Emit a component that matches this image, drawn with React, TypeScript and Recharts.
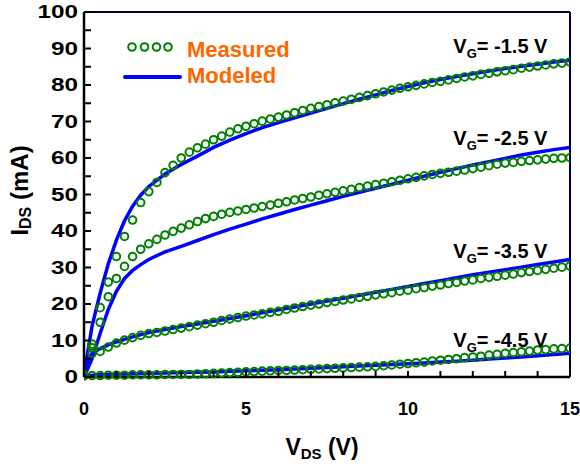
import {
  ComposedChart,
  Line,
  Scatter,
  XAxis,
  YAxis,
  ReferenceLine,
  ReferenceDot,
} from "recharts";

// measured sweep (V_DS, volts)
const vdsMeas = [
  0, 0.25, 0.5, 0.75, 1, 1.25, 1.5, 1.75, 2, 2.25, 2.5, 2.75, 3, 3.25, 3.5, 3.75,
  4, 4.25, 4.5, 4.75, 5, 5.25, 5.5, 5.75, 6, 6.25, 6.5, 6.75, 7, 7.25, 7.5, 7.75,
  8, 8.25, 8.5, 8.75, 9, 9.25, 9.5, 9.75, 10, 10.25, 10.5, 10.75, 11, 11.25, 11.5,
  11.75, 12, 12.25, 12.5, 12.75, 13, 13.25, 13.5, 13.75, 14, 14.25, 14.5, 14.75, 15,
];

// measured I_DS (mA)
const measVg15 = [
  0.5, 9, 19, 26, 33, 38.5, 43, 47.8, 50.8, 53.3, 56, 58, 60, 61.6, 62.8, 63.8,
  65, 66, 67.1, 68, 68.7, 69.4, 70.1, 70.7, 71.2, 71.8, 72.4, 73.0, 73.6, 74.1, 74.6, 75.1,
  75.6, 76.1, 76.6, 77.1, 77.6, 78.1, 78.6, 79.1, 79.5, 79.9, 80.3, 80.7, 81.0, 81.4, 81.8,
  82.2, 82.5, 82.9, 83.2, 83.6, 83.9, 84.2, 84.6, 84.9, 85.2, 85.5, 85.8, 86.0, 86.3,
];
const measVg25 = [
  0.5, 8, 15, 22, 27, 30.3, 33, 35, 36.5, 37.7, 38.9, 39.9, 40.8, 41.7, 42.6, 43.4,
  44.0, 44.6, 45.1, 45.5, 45.9, 46.3, 46.7, 47.1, 47.6, 48.0, 48.5, 48.9, 49.3, 49.8, 50.2, 50.6,
  51.0, 51.4, 51.9, 52.3, 52.7, 53.1, 53.5, 53.9, 54.3, 54.7, 55.1, 55.5, 55.8, 56.1, 56.4,
  56.7, 57.1, 57.5, 57.9, 58.3, 58.6, 58.8, 59.1, 59.3, 59.5, 59.7, 59.9, 60.0, 60.1,
];
const measVg35 = [
  0.5, 6.5, 7.0, 8.2, 9.3, 10.1, 10.8, 11.4, 11.9, 12.2, 12.6, 13.0, 13.4, 13.8, 14.2, 14.6,
  15.0, 15.5, 15.9, 16.3, 16.7, 17.0, 17.3, 17.7, 18.0, 18.5, 18.9, 19.3, 19.7, 20.0, 20.4, 20.7,
  21.1, 21.4, 21.8, 22.1, 22.5, 22.8, 23.1, 23.5, 23.8, 24.2, 24.5, 24.9, 25.2, 25.6, 25.9,
  26.3, 26.6, 27.0, 27.3, 27.6, 27.9, 28.2, 28.6, 28.9, 29.2, 29.5, 29.8, 30.1, 30.4,
];
const measVg45 = [
  0.3, 0.4, 0.4, 0.5, 0.5, 0.5, 0.6, 0.6, 0.6, 0.6, 0.7, 0.7, 0.7, 0.7, 0.8, 0.9,
  1.0, 1.1, 1.2, 1.3, 1.4, 1.5, 1.6, 1.7, 1.8, 1.8, 1.9, 2.0, 2.1, 2.2, 2.3, 2.4,
  2.5, 2.6, 2.7, 2.8, 2.9, 3.1, 3.3, 3.5, 3.7, 3.9, 4.1, 4.4, 4.6, 4.8, 5.0,
  5.3, 5.5, 5.7, 6.0, 6.2, 6.5, 6.7, 6.9, 7.1, 7.4, 7.5, 7.7, 7.8, 7.9,
];

// model curves
const vdsModel = [
  0, 0.1, 0.25, 0.5, 0.75, 1, 1.25, 1.5, 1.75, 2, 2.5, 3, 3.5, 4, 4.5, 5, 5.5, 6,
  6.5, 7, 7.5, 8, 8.5, 9, 9.5, 10, 10.5, 11, 11.5, 12, 12.5, 13, 13.5, 14, 14.5, 15,
];
const modVg15 = [
  0, 6, 14, 23, 31, 37.5, 42.8, 46.8, 49.8, 52.2, 55.6, 58.2, 60.5, 62.9, 64.9, 66.7, 68.3, 69.7,
  71.0, 72.3, 73.6, 74.9, 76.1, 77.3, 78.5, 79.6, 80.6, 81.5, 82.3, 83.1, 83.8, 84.5, 85.1, 85.7, 86.3, 86.8,
];
const modVg25 = [
  0, 2, 5, 12, 18.5, 23.5, 27, 29.2, 30.8, 32.2, 34.3, 35.8, 37.4, 39.0, 40.5, 41.9, 43.3, 44.6,
  45.9, 47.1, 48.3, 49.5, 50.6, 51.7, 52.8, 53.9, 55.0, 56.1, 57.1, 58.1, 59.0, 59.9, 60.8, 61.6, 62.3, 62.9,
];
const modVg35 = [
  0, 4, 6.5, 7.8, 8.8, 9.6, 10.3, 11.0, 11.6, 12.2, 13.0, 13.8, 14.5, 15.3, 16.0, 16.8, 17.6, 18.4,
  19.2, 20.0, 20.8, 21.6, 22.4, 23.2, 24.0, 24.8, 25.6, 26.4, 27.2, 28.0, 28.7, 29.4, 30.1, 30.8, 31.5, 32.2,
];
const modVg45 = [
  0, 0.3, 0.5, 0.6, 0.7, 0.8, 0.85, 0.9, 0.95, 1.0, 1.1, 1.2, 1.3, 1.4, 1.55, 1.7, 1.85, 2.0,
  2.2, 2.4, 2.6, 2.8, 3.0, 3.2, 3.4, 3.6, 3.85, 4.1, 4.35, 4.6, 4.9, 5.2, 5.5, 5.8, 6.15, 6.5,
];

// gate voltage labels
const vgLabels = ["-1.5", "-2.5", "-3.5", "-4.5"];
const vgLabelX = [11.4, 11.4, 11.4, 11.4];
const vgLabelY = [88.8, 63.6, 32.6, 8.2];

const xTicks = [0, 1, 2, 3, 4, 5, 6, 7, 8, 9, 10, 11, 12, 13, 14, 15];
const yTicks = [0, 5, 10, 15, 20, 25, 30, 35, 40, 45, 50, 55, 60, 65, 70, 75, 80, 85, 90, 95, 100];

const FONT = "'Liberation Sans', Arial, sans-serif";
const GREEN = "#008000";
const BLUE = "#0000ff";
const ORANGE = "#ff6600";

const zip = (xs: number[], ys: number[]) => xs.map((x, i) => ({ x, y: ys[i] }));

const measured = [measVg15, measVg25, measVg35, measVg45].map((s) => zip(vdsMeas, s));
const modeled = [modVg15, modVg25, modVg35, modVg45].map((s) => zip(vdsModel, s));

const YTick = (p: any) => {
  const { x, y, payload } = p;
  const v = payload.value;
  return (
    <g>
      <line x1={x} x2={x + 7} y1={y} y2={y} stroke="#000" strokeWidth={2} />
      {v % 10 === 0 && (
        <text
          transform={`translate(${x - 6},${y}) scale(1.35,1)`}
          textAnchor="end"
          dy="0.36em"
          fontSize={18}
          fontWeight="bold"
          fontFamily={FONT}
          fill="#000"
        >
          {v}
        </text>
      )}
    </g>
  );
};

const XTick = (p: any) => {
  const { x, y, payload } = p;
  const v = payload.value;
  return (
    <g>
      <line x1={x} x2={x} y1={y} y2={y - 6} stroke="#000" strokeWidth={2} />
      {v % 5 === 0 && (
        <text x={x} y={y + 38} textAnchor="middle" fontSize={18} fontWeight="bold" fontFamily={FONT} fill="#000">
          {v}
        </text>
      )}
    </g>
  );
};

const YTitle = ({ viewBox }: any) => {
  const cy = viewBox.y + viewBox.height / 2 - 4;
  return (
    <text
      transform={`translate(28,${cy}) rotate(-90)`}
      textAnchor="middle"
      fontSize={24}
      fontWeight="bold"
      fontFamily={FONT}
      fill="#000"
    >
      I<tspan fontSize={16} dy={3}>DS</tspan>
      <tspan dy={-3}> (mA)</tspan>
    </text>
  );
};

const XTitle = ({ viewBox }: any) => {
  const cx = viewBox.x + viewBox.width / 2 - 5;
  return (
    <text x={cx} y={455} textAnchor="middle" fontSize={23} fontWeight="bold" fontFamily={FONT} fill="#000">
      V<tspan fontSize={15} dy={4}>DS</tspan>
      <tspan dy={-4}> (V)</tspan>
    </text>
  );
};

// legend drawn over the plot, top-left corner
const LegendBox = () => (
  <svg width={200} height={62} style={{ position: "absolute", left: 120, top: 30, pointerEvents: "none" }}>
    {[12, 24.5, 36.5, 48].map((cx) => (
      <circle key={cx} cx={cx} cy={17} r={3.8} fill="none" stroke={GREEN} strokeWidth={2} />
    ))}
    <text x={67} y={27} fontSize={22} fontWeight="bold" fontFamily={FONT} fill={ORANGE}>
      Measured
    </text>
    <line x1={5} x2={60} y1={47} y2={47} stroke={BLUE} strokeWidth={4} strokeLinecap="round" />
    <text x={67} y={53} fontSize={22} fontWeight="bold" fontFamily={FONT} fill={ORANGE}>
      Modeled
    </text>
  </svg>
);

const circleDot = (p: any) => (
  <circle cx={p.cx} cy={p.cy} r={3.8} fill="none" stroke={GREEN} strokeWidth={2} />
);

export default function App() {
  return (
    <div style={{ position: "absolute", left: 0, top: 0, width: 580, height: 466, background: "#fff" }}>
      <ComposedChart width={580} height={466} margin={{ top: 12, right: 10, left: 0, bottom: 49 }}>
        <XAxis
          type="number"
          dataKey="x"
          domain={[0, 15]}
          ticks={xTicks}
          interval={0}
          height={40}
          tickSize={0}
          tickMargin={0}
          tick={<XTick />}
          axisLine={{ stroke: "#000", strokeWidth: 2.5 }}
          label={<XTitle />}
          allowDataOverflow
        />
        <YAxis
          type="number"
          domain={[0, 100]}
          ticks={yTicks}
          interval={0}
          width={84}
          tickSize={0}
          tickMargin={0}
          tick={<YTick />}
          axisLine={{ stroke: "#000", strokeWidth: 2.5 }}
          label={<YTitle />}
        />
        <ReferenceLine y={100} stroke="#000033" strokeWidth={2} />
        <ReferenceLine x={15} stroke="#000033" strokeWidth={2} />
        {modeled.map((d, i) => (
          <Line
            key={"m" + i}
            data={d}
            dataKey="y"
            type="linear"
            stroke={BLUE}
            strokeWidth={3.5}
            dot={false}
            isAnimationActive={false}
          />
        ))}
        {measured.map((d, i) => (
          <Scatter key={"s" + i} data={d} dataKey="y" shape={circleDot} isAnimationActive={false} />
        ))}
        {vgLabels.map((vg, i) => (
          <ReferenceDot
            key={vg}
            x={vgLabelX[i]}
            y={vgLabelY[i]}
            r={0}
            shape={(p: any) => (
              <text x={p.cx} y={p.cy} fontSize={20} fontWeight="bold" fontFamily={FONT} fill="#000">
                V<tspan fontSize={13} dy={5}>G</tspan>
                <tspan dy={-5}>= {vg} V</tspan>
              </text>
            )}
          />
        ))}
      </ComposedChart>
      <LegendBox />
    </div>
  );
}
